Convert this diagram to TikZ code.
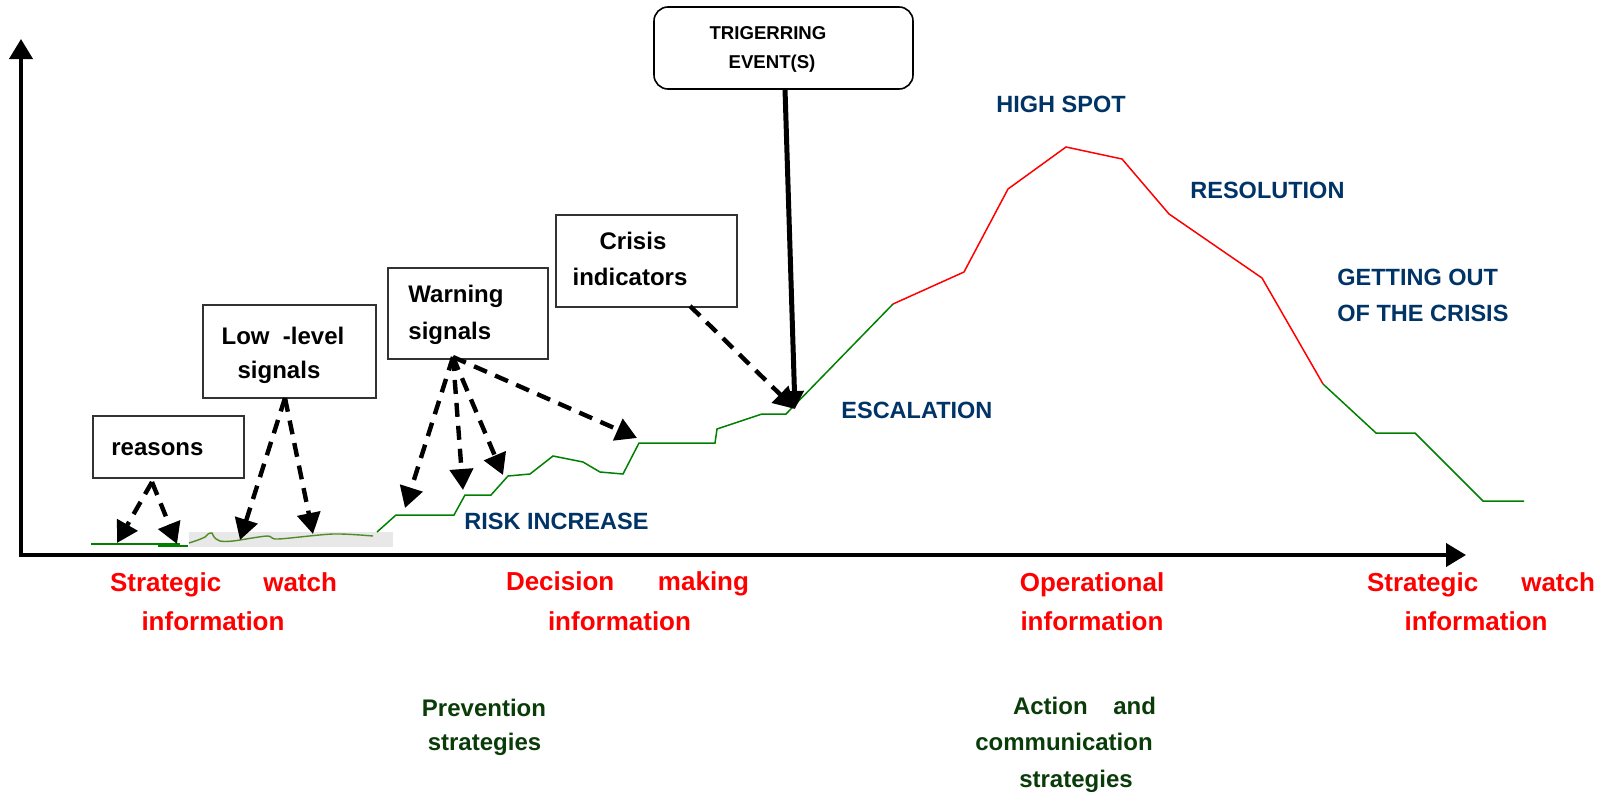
\documentclass[tikz,border=0pt]{standalone}
\usepackage{fontspec}
\setmainfont{Liberation Sans}
\usetikzlibrary{arrows.meta,calc}
\definecolor{navy}{RGB}{0,51,102}
\definecolor{curvegreen}{RGB}{0,128,0}
\definecolor{wavegreen}{RGB}{80,140,40}
\definecolor{stratgreen}{RGB}{10,60,10}
\definecolor{boxline}{RGB}{50,50,50}
\definecolor{bandgray}{RGB}{232,232,232}

\begin{document}
\begin{tikzpicture}[x=0.5pt,y=-0.5pt,
  sigbox/.style={draw=boxline,line width=0.8pt,inner sep=0pt,outer sep=0pt},
  boxtext/.style={font=\fontsize{12}{14}\selectfont\bfseries,inner sep=0pt,yshift=-1.75pt},
  trigtext/.style={font=\fontsize{9.3}{11}\selectfont\bfseries,inner sep=0pt,anchor=mid,yshift=-1pt},
  phase/.style={font=\fontsize{11.75}{14}\selectfont\bfseries,text=navy,inner sep=0pt,anchor=mid west,yshift=-1.75pt},
  infotext/.style={font=\fontsize{13}{15}\selectfont\bfseries,text=red,inner sep=0pt,anchor=mid,yshift=-1.75pt},
  strattext/.style={font=\fontsize{12}{14}\selectfont\bfseries,text=stratgreen,inner sep=0pt,anchor=mid,yshift=-1.75pt},
  signal/.style={line width=2.2pt,dash pattern=on 7pt off 4.5pt,-{Triangle[length=10.5pt,width=11.5pt]}},
  axisline/.style={line width=2pt,{Triangle[length=10pt,width=11.5pt]}-{Triangle[length=10pt,width=11.5pt]}},
  trigline/.style={line width=2.5pt,-{Triangle[length=9pt,width=9pt]}},
]
\useasboundingbox (0,0) rectangle (1610,793);

% axes
\coordinate (origin) at (21,555);
\coordinate (ytop) at (21,39);
\coordinate (xend) at (1466,555);
\draw[axisline] (ytop) -- (origin) -- (xend);

% quiet period before the rise
\draw[curvegreen,line width=0.75pt] (91,544) -- (180,544);
\draw[curvegreen,line width=0.75pt] (158,546) -- (188,546);
\fill[bandgray] (189,532) rectangle (393,547);
\draw[wavegreen,line width=0.7pt] plot[smooth] coordinates
  {(189,543) (198,540) (205,537) (208,534) (212,533) (214,537) (220,541)
   (233,541) (267,536) (278,539) (333,534) (373,536)};

% crisis curve
\draw[curvegreen,line width=0.75pt] (377,532) -- (396,515) -- (454,515) -- (465,495)
  -- (491,495) -- (508,476) -- (530,474) -- (553,456) -- (583,462) -- (600,472)
  -- (623,474) -- (639,443) -- (715,443) -- (717,429) -- (762,414) -- (786,414)
  -- (893,304);
\draw[red,line width=0.75pt] (893,304) -- (964,272) -- (1008,189) -- (1066,147)
  -- (1122,159) -- (1169,214) -- (1262,278) -- (1323,384);
\draw[curvegreen,line width=0.75pt] (1323,384) -- (1376,433) -- (1415,433)
  -- (1483,501) -- (1524,501);

% signal boxes
\node[sigbox,minimum width=75.5pt,minimum height=31pt] (reasons) at (168.5,447) {};
\node[boxtext,anchor=mid west] (reasonsT) at (111,447) {reasons};

\node[sigbox,minimum width=86.5pt,minimum height=46.5pt] (lowlevel) at (289.5,351.5) {};
\node[boxtext,anchor=mid] (lowT1) at (283,336) {Low\ \ -level};
\node[boxtext,anchor=mid] (lowT2) at (279,370) {signals};

\node[sigbox,minimum width=80pt,minimum height=45.5pt] (warning) at (468,313.5) {};
\node[boxtext,anchor=mid west] (warnT1) at (408,294) {Warning};
\node[boxtext,anchor=mid west] (warnT2) at (408,331) {signals};

\node[sigbox,minimum width=90.5pt,minimum height=46pt] (crisis) at (646.5,261) {};
\node[boxtext,anchor=mid] (crisT1) at (633,241) {Crisis};
\node[boxtext,anchor=mid] (crisT2) at (630,277) {indicators};

\node[sigbox,draw=black,rounded corners=7pt,minimum width=129.5pt,minimum height=41pt] (trigger) at (783.5,48) {};
\node[trigtext] (trigT1) at (768,32) {TRIGERRING};
\node[trigtext] (trigT2) at (772,61) {EVENT(S)};

% arrow sources and targets
\coordinate (rsrc) at (152,482);
\coordinate (r1) at (117,543);
\coordinate (r2) at (177,544);
\coordinate (lsrc) at (285,398);
\coordinate (l1) at (240,540);
\coordinate (l2) at (313,534);
\coordinate (wsrc) at (453,357);
\coordinate (w1) at (405,508);
\coordinate (w2) at (463,490);
\coordinate (w3) at (503,475);
\coordinate (w4) at (637,438);
\coordinate (csrc) at (690,306);
\coordinate (tsrc) at (785,89);
\coordinate (esc) at (795,409);

\draw[signal] (rsrc) -- (r1);
\draw[signal] (rsrc) -- (r2);
\draw[signal] (lsrc) -- (l1);
\draw[signal] (lsrc) -- (l2);
\draw[signal] (wsrc) -- (w1);
\draw[signal] (wsrc) -- (w2);
\draw[signal] (wsrc) -- (w3);
\draw[signal] (wsrc) -- (w4);
\draw[signal] (csrc) -- (esc);
\draw[trigline] (tsrc) -- (esc);

% phase labels
\node[phase] (highspot) at (996,104) {HIGH SPOT};
\node[phase] (resolution) at (1190,190) {RESOLUTION};
\node[phase] (getout1) at (1337,277) {GETTING OUT};
\node[phase] (getout2) at (1337,313) {OF THE CRISIS};
\node[phase] (escalation) at (841,410) {ESCALATION};
\node[phase] (risk) at (464,521) {RISK INCREASE};

% information types
\node[infotext] (info1a) at (223.5,583) {\makebox[113.5pt]{Strategic\hfill watch}};
\node[infotext] (info1b) at (213,622) {information};
\node[infotext] (info2a) at (627.5,582) {\makebox[121.5pt]{Decision\hfill making}};
\node[infotext] (info2b) at (619.5,622) {information};
\node[infotext] (info3a) at (1092,583) {Operational};
\node[infotext] (info3b) at (1092,622) {information};
\node[infotext] (info4a) at (1481,583) {\makebox[114pt]{Strategic\hfill watch}};
\node[infotext] (info4b) at (1476,622) {information};

% strategies
\node[strattext] (prev1) at (484,708) {Prevention};
\node[strattext] (prev2) at (484.5,742) {strategies};
\node[strattext] (act1) at (1084.5,706) {\makebox[71.5pt]{Action\hfill and}};
\node[strattext] (act2) at (1064,742) {communication};
\node[strattext] (act3) at (1076,779) {strategies};
\end{tikzpicture}
\end{document}
